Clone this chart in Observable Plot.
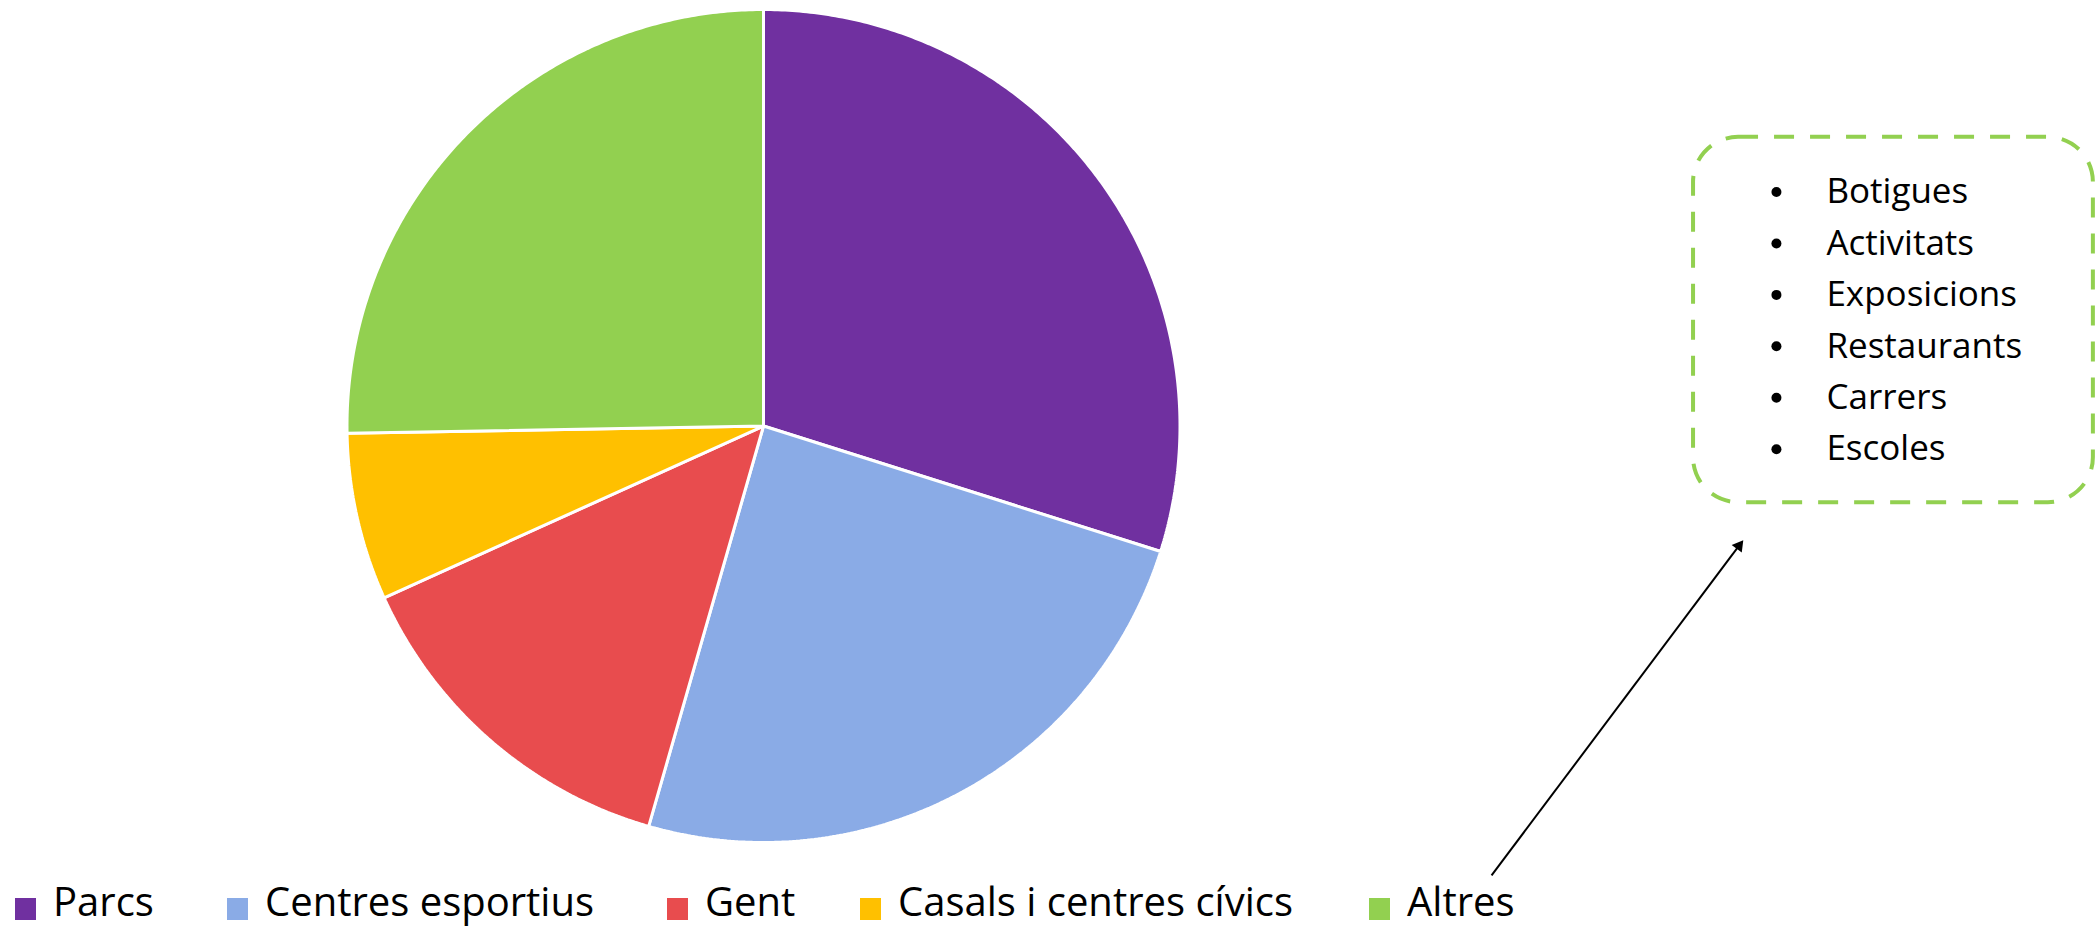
<!DOCTYPE html>
<html>
<head>
<meta charset="utf-8">
<script src="https://cdn.jsdelivr.net/npm/d3@7"></script>
<script src="https://cdn.jsdelivr.net/npm/@observablehq/plot@0.6"></script>
<style>
  html, body { margin: 0; padding: 0; background: #fff; }
  #wrap { width: 2100px; height: 933px; position: relative; font-family: "Open Sans", sans-serif; }
  #legend { position: absolute; left: 0; top: 876px; width: 2100px; height: 57px; }
  .item { position: absolute; top: 0; height: 57px; }
  .sw { position: absolute; top: 22px; width: 21px; height: 22px; }
  .lb { position: absolute; top: 5px; left: 38px; font-size: 40px; line-height: 40px; white-space: nowrap; color: #000; }
</style>
</head>
<body>
<div id="wrap"><div id="chart"></div><div id="legend"></div></div>
<script>
// ---- data ----
const categories = ["Parcs", "Centres esportius", "Gent", "Casals i centres cívics", "Altres"];
const values = [29.9, 24.6, 13.8, 6.5, 25.3];
const colors = ["#7030A0", "#8AABE6", "#E84C4E", "#FFC000", "#92D050"];
const listItems = ["Botigues", "Activitats", "Exposicions", "Restaurants", "Carrers", "Escoles"];

// ---- layout (unit coordinates: pie radius = 1, centre = 0,0) ----
const legendLeft = [15, 227, 667, 860, 1369];
const box = {x1: 2.233, x2: 3.193, y1: 0.693, y2: -0.184};
const listX = {bullet: 2.432, text: 2.552};
const listTop = 0.5618, listStep = 0.1235;
const arrow = {x1: 1.748, y1: -1.079, x2: 2.3553, y2: -0.2701};

// pie slice polygons from the values
const total = d3.sum(values);
const slicePts = [];
let acc = 0;
categories.forEach((name, i) => {
  const a0 = acc / total * 2 * Math.PI;
  acc += values[i];
  const a1 = acc / total * 2 * Math.PI;
  slicePts.push({name, x: 0, y: 0});
  const n = Math.max(2, Math.ceil((a1 - a0) / (Math.PI / 360)));
  for (let k = 0; k <= n; k++) {
    const a = a0 + (a1 - a0) * k / n;
    slicePts.push({name, x: Math.sin(a), y: Math.cos(a)});
  }
  slicePts.push({name, x: 0, y: 0});
});

const listData = listItems.map((t, i) => ({t, y: listTop - i * listStep}));

// arrow head
const ang = Math.atan2(arrow.x2 - arrow.x1, arrow.y2 - arrow.y1); // clockwise from up
const back = 9.3 / 416.5;
const head = {x: arrow.x2 - back * Math.sin(ang), y: arrow.y2 - back * Math.cos(ang)};

const chart = Plot.plot({
  width: 2100,
  height: 876,
  margin: 0,
  x: {domain: [-1, 1], range: [346.5, 1179.5], axis: null},
  y: {domain: [-1, 1], range: [842, 9], axis: null},
  color: {domain: categories, range: colors},
  style: {fontFamily: "Open Sans, sans-serif", background: "white"},
  marks: [
    Plot.line(slicePts, {x: "x", y: "y", z: "name", fill: "name", stroke: "white", strokeWidth: 3, strokeLinejoin: "miter", curve: "linear"}),
    Plot.rect([box], {x1: "x1", x2: "x2", y1: "y1", y2: "y2", fill: "none", stroke: "#92D050", strokeWidth: 4, strokeDasharray: "20,16", rx: 45, ry: 45}),
    Plot.dot(listData, {x: () => listX.bullet, y: "y", r: 5, fill: "black", stroke: null}),
    Plot.text(listData, {x: () => listX.text, y: "y", text: "t", textAnchor: "start", fontSize: 35, fill: "black"}),
    Plot.link([arrow], {x1: "x1", y1: "y1", x2: () => head.x, y2: () => head.y, stroke: "black", strokeWidth: 2}),
    Plot.dot([head], {x: "x", y: "y", symbol: "triangle2", r: 6, fill: "black", stroke: null, rotate: ang * 180 / Math.PI})
  ]
});
document.getElementById("chart").appendChild(chart);

// legend below the svg
const legend = document.getElementById("legend");
categories.forEach((c, i) => {
  const it = document.createElement("div");
  it.className = "item";
  it.style.left = legendLeft[i] + "px";
  const sw = document.createElement("div");
  sw.className = "sw";
  sw.style.background = colors[i];
  const lb = document.createElement("div");
  lb.className = "lb";
  lb.textContent = c;
  it.appendChild(sw); it.appendChild(lb);
  legend.appendChild(it);
});
</script>
</body>
</html>
